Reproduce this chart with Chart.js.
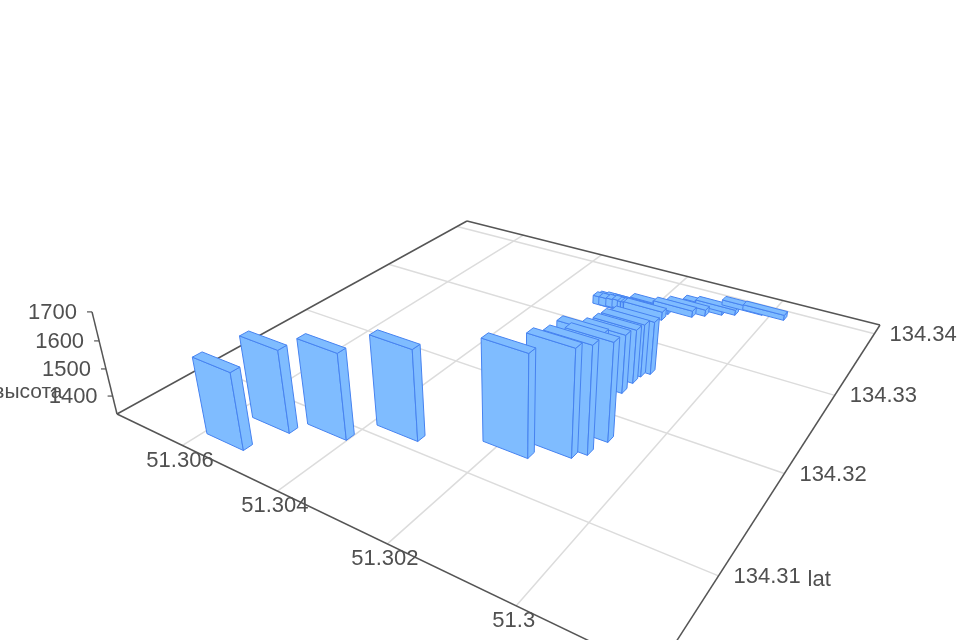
<!DOCTYPE html>
<html><head><meta charset="utf-8">
<style>html,body{margin:0;background:#fff;overflow:hidden}canvas{display:block;filter:blur(0.7px)}</style>
<script src="https://cdn.jsdelivr.net/npm/chart.js@4/dist/chart.umd.min.js"></script>
</head><body><canvas id="c" width="960" height="640"></canvas>
<script>
// Data
const barLon=[51.30553,51.30527,51.30441,51.30348,51.30185,51.30131,51.30115,51.30105,51.30151,51.30150,51.30149,51.30147,51.30137,
 51.30266,51.30260,51.30254,51.30246,51.30240,51.30234,51.30228,51.30216,51.30210,51.30204,
 51.30204,51.30161,51.30142,51.30117,51.30096,51.30053,51.30012];
const barLat=[134.30474,134.30756,134.30894,134.31124,134.31345,134.31489,134.31567,134.31751,134.31976,134.32294,134.32446,134.32550,134.32616,
 134.33345,134.33365,134.33350,134.33375,134.33360,134.33380,134.33372,134.33365,134.33375,134.33377,
 134.33490,134.33546,134.33615,134.33701,134.33755,134.33867,134.33877];
const barHeight=[1606,1628,1639,1655,1692,1708,1709,1681,1628,1551,1535,1532,1533,
 1366,1368,1366,1370,1366,1368,1366,1366,1364,1366,
 1362,1358,1358,1358,1353,1353,1353];
const lonTicks=[51.306,51.304,51.302,51.3];
const lonTickLabels=['51.306','51.304','51.302','51.3'];
const latTicks=[134.31,134.32,134.33,134.34];
const latTickLabels=['134.31','134.32','134.33','134.34'];
const heightTicks=[1400,1500,1600,1700];
const heightTickLabels=['1400','1500','1600','1700'];
const lonName='lat', heightName='высота';

// Axis extents and camera
const lonMax=51.30756, lonMin=51.29816, latMin=134.3027, latMax=134.3416, hMin=1332, hMax=1700;
const halfLon=0.000401, halfLat=0.00037;
const A=[117,414],D=[656,673],C=[880,325],B=[467,221],VP=[512,2028],tTop=-0.0595;
const dx1=D[0]-C[0],dx2=B[0]-C[0],sx=A[0]-D[0]+C[0]-B[0],dy1=D[1]-C[1],dy2=B[1]-C[1],sy=A[1]-D[1]+C[1]-B[1];
const den=dx1*dy2-dx2*dy1,g=(sx*dy2-dx2*sy)/den,h=(dx1*sy-sx*dy1)/den;
const a=D[0]-A[0]+g*D[0],b=B[0]-A[0]+h*B[0],c0=A[0],d=D[1]-A[1]+g*D[1],e=B[1]-A[1]+h*B[1],f=A[1];
function project(lon,lat,z){
  const s=(lon-lonMax)/(lonMin-lonMax), r=(lat-latMin)/(latMax-latMin), t=tTop*(z-hMin)/(hMax-hMin);
  const W=g*s+h*r+1;
  return {x:(a*s+b*r+c0+t*VP[0])/(W+t), y:(d*s+e*r+f+t*VP[1])/(W+t)};
}
const faceFill='rgb(127,188,255)', faceLine='rgb(70,130,240)', axisCol='#555555', gridCol='#dcdcdc';
const paint=[];
function line(pts,color,width){paint.push({data:pts,showLine:true,borderColor:color,borderWidth:width,pointRadius:0,fill:false,tension:0,clip:false});}
function face(pts){pts=pts.concat([pts[0]]);paint.push({data:pts,showLine:true,borderColor:faceLine,borderWidth:1,backgroundColor:faceFill,pointRadius:0,fill:'shape',tension:0,clip:false,borderJoinStyle:'round'});}

latTicks.forEach(v=>line([project(lonMax,v,hMin),project(lonMin,v,hMin)],gridCol,1.5));
lonTicks.forEach(v=>line([project(v,latMin,hMin),project(v,latMax,hMin)],gridCol,1.5));
line([project(lonMax,latMin,hMin),project(lonMin,latMin,hMin)],axisCol,1.5);
line([project(lonMin,latMin,hMin),project(lonMin,latMax,hMin)],axisCol,1.5);
line([project(lonMin,latMax,hMin),project(lonMax,latMax,hMin)],axisCol,1.5);
line([project(lonMax,latMax,hMin),project(lonMax,latMin,hMin)],axisCol,1.5);
line([project(lonMax,latMin,hMin),project(lonMax,latMin,hMax)],axisCol,1.5);
heightTicks.forEach(v=>{const p=project(lonMax,latMin,v);line([p,{x:p.x-5,y:p.y}],axisCol,1.2);});

barLon.map((_,i)=>i)
 .sort((p,q)=>project(barLon[p],barLat[p],hMin).y-project(barLon[q],barLat[q],hMin).y)
 .forEach(i=>{
  const l0=barLon[i]-halfLon,l1=barLon[i]+halfLon,r0=barLat[i]-halfLat,r1=barLat[i]+halfLat,z=barHeight[i];
  face([project(l1,r0,hMin),project(l0,r0,hMin),project(l0,r0,z),project(l1,r0,z)]);
  face([project(l0,r0,hMin),project(l0,r1,hMin),project(l0,r1,z),project(l0,r0,z)]);
  face([project(l1,r0,z),project(l0,r0,z),project(l0,r1,z),project(l1,r1,z)]);
 });

const textPlugin={id:'labels3d',afterDatasetsDraw(chart){
  const ctx=chart.ctx,X=chart.scales.x,Y=chart.scales.y;
  ctx.save();ctx.fillStyle='#505050';ctx.font='22px "Liberation Sans"';ctx.textBaseline='middle';
  const put=(t,x,y,al)=>{ctx.textAlign=al;ctx.fillText(t,x,y);};
  lonTicks.forEach((v,i)=>{const p=project(v,latMin,hMin);put(lonTickLabels[i],X.getPixelForValue(p.x)-2.5,Y.getPixelForValue(p.y)+15,'center');});
  latTicks.forEach((v,i)=>{const p=project(lonMin,v,hMin);put(latTickLabels[i],X.getPixelForValue(p.x)+15,Y.getPixelForValue(p.y)+1,'left');});
  heightTicks.forEach((v,i)=>{const p=project(lonMax,latMin,v);put(heightTickLabels[i],X.getPixelForValue(p.x)-15,Y.getPixelForValue(p.y)+1,'right');});
  const ln=project(lonMin,latTicks[0],hMin);put(lonName,X.getPixelForValue(ln.x)+89,Y.getPixelForValue(ln.y)+4,'left');
  ctx.font='21px "Liberation Sans"';
  const hn=project(lonMax,latMin,(hMin+hMax)/2);put(heightName,X.getPixelForValue(hn.x)-77,Y.getPixelForValue(hn.y)+28,'center');
  ctx.restore();
}};

new Chart(document.getElementById('c'),{type:'scatter',
  data:{datasets:paint.slice().reverse()},
  plugins:[textPlugin],
  options:{responsive:false,animation:false,events:[],layout:{padding:0},
    plugins:{legend:{display:false},tooltip:{enabled:false},title:{display:false},filler:{propagate:false}},
    scales:{x:{type:'linear',min:0,max:960,display:false},y:{type:'linear',min:0,max:640,reverse:true,display:false}}}});
</script></body></html>
